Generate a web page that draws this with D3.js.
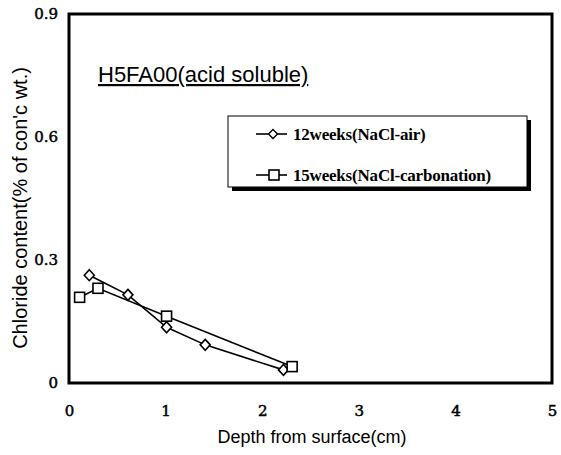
<!DOCTYPE html>
<html>
<head>
<meta charset="utf-8">
<script src="https://cdn.jsdelivr.net/npm/d3@7"></script>
<style>
  body { margin: 0; background: #fff; }
</style>
</head>
<body>
<div id="chart"></div>
<script>
// series
const airDepth = [0.21, 0.61, 1.01, 1.41, 2.22];
const airValue = [0.263, 0.215, 0.136, 0.093, 0.032];
const carbDepth = [0.11, 0.30, 1.01, 2.31];
const carbValue = [0.209, 0.231, 0.163, 0.040];
const xTicks = [0, 1, 2, 3, 4, 5];
const yTicks = [0, 0.3, 0.6, 0.9];
const seriesNames = ["12weeks(NaCl-air)", "15weeks(NaCl-carbonation)"];

const width = 561;
const height = 455;
const marginTop = 14;
const marginRight = 9;
const marginBottom = 72;
const marginLeft = 69;

const x = d3.scaleLinear().domain([0, 5]).range([marginLeft, width - marginRight]);
const y = d3.scaleLinear().domain([0, 0.9]).range([height - marginBottom, marginTop]);

const svg = d3.select("#chart").append("svg")
    .attr("width", width)
    .attr("height", height)
    .attr("viewBox", [0, 0, width, height]);

const serif = "'DejaVu Serif', serif";
const legendSerif = "'Liberation Serif', 'Times New Roman', serif";
const sans = "'Liberation Sans', Arial, sans-serif";

// tick labels
svg.append("g")
    .attr("transform", `translate(0,${height - marginBottom})`)
    .call(d3.axisBottom(x).tickValues(xTicks).tickSize(0).tickPadding(22).tickFormat(d3.format("d")))
    .call(g => g.select(".domain").remove())
    .selectAll("text")
        .attr("font-family", serif)
        .attr("font-size", 15)
        .attr("fill", "#000")
        .attr("stroke", "#000")
        .attr("stroke-width", 0.5);

svg.append("g")
    .attr("transform", `translate(${marginLeft},0)`)
    .call(d3.axisLeft(y).tickValues(yTicks).tickSize(0).tickPadding(11)
        .tickFormat(d => d === 0 ? "0" : d3.format(".1f")(d)))
    .call(g => g.select(".domain").remove())
    .selectAll("text")
        .attr("font-family", serif)
        .attr("font-size", 15)
        .attr("fill", "#000")
        .attr("stroke", "#000")
        .attr("stroke-width", 0.5);

// plot frame
svg.append("rect")
    .attr("x", marginLeft)
    .attr("y", marginTop)
    .attr("width", width - marginLeft - marginRight)
    .attr("height", height - marginTop - marginBottom)
    .attr("fill", "none")
    .attr("stroke", "#000")
    .attr("stroke-width", 3);

// axis titles
svg.append("text")
    .attr("x", 312)
    .attr("y", 443)
    .attr("text-anchor", "middle")
    .attr("font-family", sans)
    .attr("font-size", 18)
    .text("Depth from surface(cm)");

svg.append("text")
    .attr("transform", `translate(27,208) rotate(-90)`)
    .attr("text-anchor", "middle")
    .attr("font-family", sans)
    .attr("font-size", 20)
    .text("Chloride content(% of con'c wt.)");

// chart title
svg.append("text")
    .attr("x", 98)
    .attr("y", 82)
    .attr("font-family", sans)
    .attr("font-size", 22)
    .attr("text-decoration", "underline")
    .text("H5FA00(acid soluble)");

// lines
const line = d3.line().x(d => x(d[0])).y(d => y(d[1]));
const airData = d3.zip(airDepth, airValue);
const carbData = d3.zip(carbDepth, carbValue);

svg.append("path").datum(airData)
    .attr("d", line).attr("fill", "none").attr("stroke", "#000").attr("stroke-width", 1.6);
svg.append("path").datum(carbData)
    .attr("d", line).attr("fill", "none").attr("stroke", "#000").attr("stroke-width", 1.6);

// diamond a bit taller than wide
function diamondPath(w, h) {
    const p = d3.path();
    p.moveTo(0, -h / 2);
    p.lineTo(w / 2, 0);
    p.lineTo(0, h / 2);
    p.lineTo(-w / 2, 0);
    p.closePath();
    return p.toString();
}
function square(g, cx, cy, s) {
    g.append("rect")
        .attr("x", cx - s / 2).attr("y", cy - s / 2)
        .attr("width", s).attr("height", s)
        .attr("fill", "#fff").attr("stroke", "#000").attr("stroke-width", 1.6);
}

svg.append("g").selectAll("path")
    .data(airData)
    .join("path")
    .attr("transform", d => `translate(${x(d[0])},${y(d[1])})`)
    .attr("d", diamondPath(10, 11))
    .attr("fill", "#fff").attr("stroke", "#000").attr("stroke-width", 1.6);

const sq = svg.append("g");
carbData.forEach(d => square(sq, x(d[0]), y(d[1]), 10));

// legend with shadow
const lg = svg.append("g");
lg.append("rect").attr("x", 232).attr("y", 120).attr("width", 299).attr("height", 71).attr("fill", "#000");
lg.append("rect").attr("x", 228).attr("y", 116).attr("width", 299).attr("height", 71)
    .attr("fill", "#fff").attr("stroke", "#000").attr("stroke-width", 1);

const legY = [134, 175];
legY.forEach((ly, i) => {
    lg.append("line").attr("x1", 256).attr("x2", 287).attr("y1", ly).attr("y2", ly)
        .attr("stroke", "#000").attr("stroke-width", 1.6);
    if (i === 0) {
        lg.append("path").attr("transform", `translate(273,${ly})`).attr("d", diamondPath(9, 9))
            .attr("fill", "#fff").attr("stroke", "#000").attr("stroke-width", 1.4);
    } else {
        square(lg, 274, ly, 10);
    }
    lg.append("text")
        .attr("x", 293).attr("y", ly + 6)
        .attr("font-family", legendSerif)
        .attr("font-size", 17)
        .attr("font-weight", "bold")
        .attr("letter-spacing", -0.2)
        .text(seriesNames[i]);
});
</script>
</body>
</html>
